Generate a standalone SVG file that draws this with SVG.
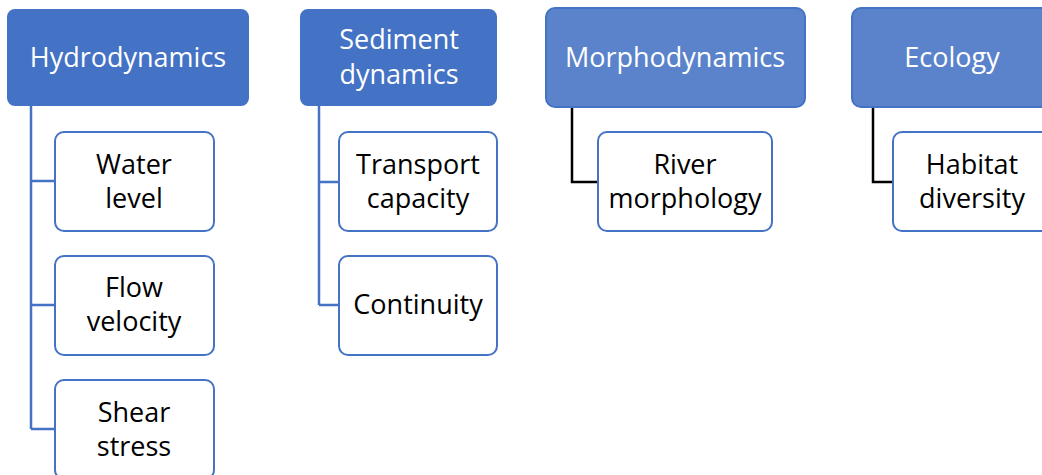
<svg xmlns="http://www.w3.org/2000/svg" width="1042" height="475" viewBox="0 0 1042 475">
<style>
.hd{fill:#4472C4;stroke:#4472C4;stroke-width:2}
.hl{fill:#5A83CB;stroke:#4472C4;stroke-width:2}
.ch{fill:#FFFFFF;stroke:#4472C4;stroke-width:2}
.wt{font-family:"Open Sans",sans-serif;font-size:27px;fill:#FFFFFF;text-anchor:middle}
.bt{font-family:"Open Sans",sans-serif;font-size:27px;fill:#000000;text-anchor:middle}
.cb{fill:none;stroke:#4472C4;stroke-width:2.5}
.ck{fill:none;stroke:#000000;stroke-width:2.5}
</style>
<g id="connectors">
<path class="cb" d="M31 105 V429 M31 181 H55 M31 305 H55 M31 429 H55"/>
<path class="cb" d="M319 105 V305 M319 182 H339 M319 305 H339"/>
<path class="ck" d="M572 107 V182 H598"/>
<path class="ck" d="M873 107 V182 H893"/>
</g>
<g id="hydrodynamics"><rect class="hd" x="8" y="10" width="240" height="95" rx="7"/><text class="wt" x="128" y="67">Hydrodynamics</text></g>
<g id="sediment"><rect class="hd" x="301" y="10" width="195" height="95" rx="7"/><text class="wt" x="399" y="49">Sediment</text><text class="wt" x="399" y="84">dynamics</text></g>
<g id="morphodynamics"><rect class="hl" x="546" y="8" width="259" height="99" rx="9"/><text class="wt" x="675" y="67">Morphodynamics</text></g>
<g id="ecology"><rect class="hl" x="852" y="8" width="200" height="99" rx="9"/><text class="wt" x="952" y="67">Ecology</text></g>
<g id="water-level"><rect class="ch" x="55" y="132" width="159" height="99" rx="9"/><text class="bt" x="134" y="174">Water</text><text class="bt" x="134" y="208">level</text></g>
<g id="flow-velocity"><rect class="ch" x="55" y="256" width="159" height="99" rx="9"/><text class="bt" x="134" y="297">Flow</text><text class="bt" x="134" y="331">velocity</text></g>
<g id="shear-stress"><rect class="ch" x="55" y="380" width="159" height="99" rx="9"/><text class="bt" x="134" y="422">Shear</text><text class="bt" x="134" y="456">stress</text></g>
<g id="transport-capacity"><rect class="ch" x="339" y="132" width="158" height="99" rx="9"/><text class="bt" x="418" y="174">Transport</text><text class="bt" x="418" y="208">capacity</text></g>
<g id="continuity"><rect class="ch" x="339" y="256" width="158" height="99" rx="9"/><text class="bt" x="418" y="314">Continuity</text></g>
<g id="river-morphology"><rect class="ch" x="598" y="132" width="174" height="99" rx="9"/><text class="bt" x="685" y="174">River</text><text class="bt" x="685" y="208">morphology</text></g>
<g id="habitat-diversity"><rect class="ch" x="893" y="132" width="160" height="99" rx="9"/><text class="bt" x="972" y="174">Habitat</text><text class="bt" x="972" y="208">diversity</text></g>
</svg>
